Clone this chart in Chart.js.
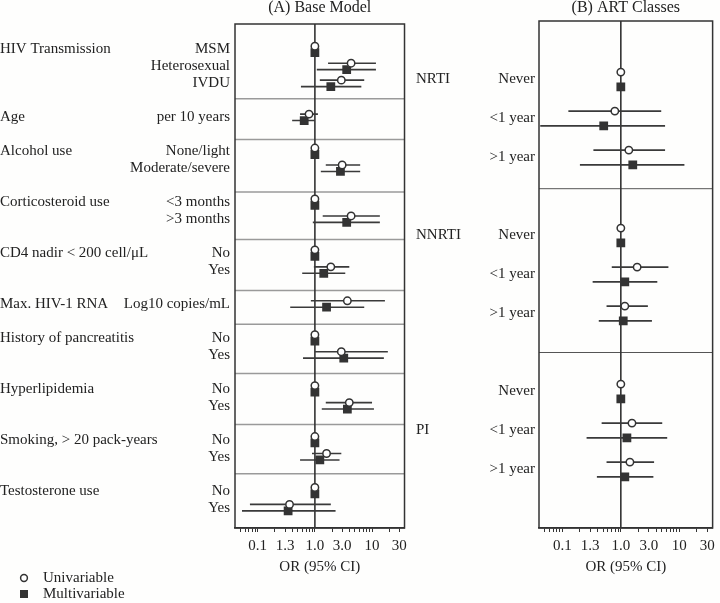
<!DOCTYPE html>
<html>
<head>
<meta charset="utf-8">
<script src="https://cdn.jsdelivr.net/npm/chart.js@4"></script>
<style>
  body { margin: 0; background: #fefefd; }
  #wrap { position: relative; width: 720px; height: 603px; }
  canvas { position: absolute; top: 0; }
  #chartA { left: 0; }
  #chartB { left: 410px; }
</style>
</head>
<body>
<div id="wrap">
  <canvas id="chartA" width="412" height="603"></canvas>
  <canvas id="chartB" width="310" height="603"></canvas>
</div>
<script>
// x axis (odds ratio, log scale)
const TICK_VALUES = [0.1, 0.3, 1, 3, 10, 30];
const TICK_LABELS = ['0.1', '1.3', '1.0', '3.0', '10', '30'];
const MINOR_TICKS = [0.05, 0.06, 0.07, 0.08, 0.09, 0.2, 0.4, 0.5, 0.6, 0.7, 0.8, 0.9, 2, 4, 5, 6, 7, 8, 9, 20];

// (A) Base Model
const A_GROUPS = ['HIV Transmission', 'Age', 'Alcohol use', 'Corticosteroid use', 'CD4 nadir < 200 cell/\u03bcL',
    'Max. HIV-1 RNA', 'History of pancreatitis', 'Hyperlipidemia', 'Smoking, > 20 pack-years', 'Testosterone use'];
const A_GROUP_ROWS = [0, 4, 6, 9, 12, 15, 17, 20, 23, 26];
const A_LABELS = ['MSM', 'Heterosexual', 'IVDU', 'per 10 years', 'None/light', 'Moderate/severe', '<3 months', '>3 months',
    'No', 'Yes', 'Log10 copies/mL', 'No', 'Yes', 'No', 'Yes', 'No', 'Yes', 'No', 'Yes'];
const A_ROWS = [0, 1, 2, 4, 6, 7, 9, 10, 12, 13, 15, 17, 18, 20, 21, 23, 24, 26, 27];
const A_UNI_OR = [1, 4.3, 2.9, 0.79, 1, 3.0, 1, 4.3, 1, 1.9, 3.7, 1, 2.9, 1, 4.0, 1, 1.6, 1, 0.36];
const A_UNI_LO = [null, 1.7, 1.22, 0.55, null, 1.55, null, 1.37, null, 0.96, 0.85, null, 1.0, null, 1.55, null, 0.89, null, 0.073];
const A_UNI_HI = [null, 11.7, 7.3, 1.13, null, 6.2, null, 13.7, null, 4.0, 16.8, null, 18.9, null, 10, null, 2.9, null, 1.9];
const A_MULTI_OR = [1, 3.6, 1.9, 0.65, 1, 2.8, 1, 3.6, 1, 1.43, 1.6, 1, 3.2, 1, 3.7, 1, 1.22, 1, 0.34];
const A_MULTI_LO = [null, 1.08, 0.57, 0.40, null, 1.27, null, 0.92, null, 0.60, 0.37, null, 0.62, null, 1.32, null, 0.55, null, 0.053];
const A_MULTI_HI = [null, 11.7, 6.5, 1.0, null, 6.2, null, 13.7, null, 3.4, 7.3, null, 16.1, null, 10.8, null, 2.7, null, 2.3];
const A_SEPARATORS = [2.9, 5.3, 8.4, 11.2, 14.2, 16.2, 19.1, 22.1, 25.0];

// (B) ART Classes
const B_CLASSES = ['NRTI', 'NNRTI', 'PI'];
const B_CLASS_ROWS = [0, 4, 9];
const B_LABELS = ['Never', '<1 year', '>1 year', 'Never', '<1 year', '>1 year', 'Never', '<1 year', '>1 year'];
const B_ROWS = [0, 1, 2, 4, 5, 6, 8, 9, 10];
const B_UNI_OR = [1, 0.79, 1.37, 1, 1.9, 1.17, 1, 1.55, 1.43];
const B_UNI_LO = [null, 0.127, 0.34, null, 0.70, 0.57, null, 0.47, 0.57];
const B_UNI_HI = [null, 4.9, 5.7, null, 6.5, 2.9, null, 5.1, 3.7];
const B_MULTI_OR = [1, 0.51, 1.6, 1, 1.17, 1.1, 1, 1.27, 1.17];
const B_MULTI_LO = [null, 0.042, 0.20, null, 0.33, 0.42, null, 0.26, 0.39];
const B_MULTI_HI = [null, 5.7, 12.2, null, 4.2, 3.4, null, 6.2, 3.6];
const B_SEPARATORS = [2.8, 7.0];

const FONT = 'Liberation Serif';
const FONT_SIZE = 15;
const INK = '#333';
const OFF = 0.19; // circle above, square below the row

function ciData(rows, lo, hi, off) {
    return rows.flatMap((r, i) => lo[i] == null ? [] :
        [{ x: lo[i], y: r + off }, { x: hi[i], y: r + off }, { x: null, y: null }]);
}

// frame, reference line, separators and all free text
const panelDecor = {
    id: 'panelDecor',
    beforeDatasetsDraw(chart, args, opts) {
        const { ctx, chartArea: a, scales: { x, y } } = chart;
        ctx.save();
        ctx.strokeStyle = opts.sepColor;
        ctx.lineWidth = opts.sepWidth;
        opts.separators.forEach(s => {
            const py = y.getPixelForValue(s);
            ctx.beginPath(); ctx.moveTo(a.left, py); ctx.lineTo(a.right, py); ctx.stroke();
        });
        ctx.strokeStyle = INK;
        ctx.lineWidth = 1.6;
        const px = x.getPixelForValue(1);
        ctx.beginPath(); ctx.moveTo(px, a.top); ctx.lineTo(px, a.bottom); ctx.stroke();
        ctx.lineWidth = 1.5;
        ctx.strokeRect(a.left, a.top, a.right - a.left, a.bottom - a.top);

        ctx.fillStyle = '#222';
        ctx.textBaseline = 'middle';
        ctx.textAlign = 'center';
        const cx = (a.left + a.right) / 2;
        ctx.font = '16px "' + FONT + '"';
        ctx.fillText(opts.title, cx, 8);
        ctx.font = FONT_SIZE + 'px "' + FONT + '"';
        ctx.fillText('OR (95% CI)', cx, 567);
        ctx.textAlign = 'left';
        opts.groups.forEach((g, i) => ctx.fillText(g, opts.groupX, y.getPixelForValue(opts.groupRows[i])));

        if (opts.legend) {
            ctx.fillText('Univariable', 43, 578);
            ctx.fillText('Multivariable', 43, 594);
            ctx.beginPath();
            ctx.arc(24, 578, 3.4, 0, Math.PI * 2);
            ctx.fillStyle = '#fff'; ctx.fill();
            ctx.lineWidth = 1.5; ctx.strokeStyle = INK; ctx.stroke();
            ctx.fillStyle = INK;
            ctx.fillRect(20, 590, 8, 8);
        }
        ctx.restore();
    }
};

function makeChart(id, cfg) {
    const datasets = [
        {
            label: 'Univariable',
            data: cfg.rows.map((r, i) => ({ x: cfg.uni[i], y: r - OFF })),
            pointStyle: 'circle', pointRadius: 3.7,
            pointBackgroundColor: '#fff', pointBorderColor: INK, pointBorderWidth: 1.5,
            order: 0
        },
        {
            label: 'Multivariable',
            data: cfg.rows.map((r, i) => ({ x: cfg.multi[i], y: r + OFF })),
            pointStyle: 'rect', pointRadius: 6.2,
            pointBackgroundColor: INK, pointBorderColor: INK, pointBorderWidth: 0,
            order: 1
        },
        {
            data: ciData(cfg.rows, cfg.uniLo, cfg.uniHi, -OFF),
            showLine: true, spanGaps: false, pointRadius: 0,
            borderColor: '#3a3a3a', borderWidth: 1.6, order: 2
        },
        {
            data: ciData(cfg.rows, cfg.multiLo, cfg.multiHi, OFF),
            showLine: true, spanGaps: false, pointRadius: 0,
            borderColor: '#3a3a3a', borderWidth: 1.6, order: 2
        }
    ];

    return new Chart(document.getElementById(id), {
        type: 'scatter',
        data: { datasets },
        plugins: [panelDecor],
        options: {
            responsive: false,
            animation: false,
            layout: { padding: cfg.padding },
            scales: {
                x: {
                    type: 'logarithmic',
                    min: 0.04,
                    max: 37,
                    afterBuildTicks: s => {
                        s.ticks = [...TICK_VALUES, ...MINOR_TICKS].sort((p, q) => p - q).map(v => ({ value: v }));
                    },
                    afterFit: s => { s.height = 75; },
                    ticks: {
                        autoSkip: false, maxRotation: 0, padding: 5,
                        color: '#222', font: { family: FONT, size: FONT_SIZE },
                        callback: v => {
                            const i = TICK_VALUES.indexOf(v);
                            return i >= 0 ? TICK_LABELS[i] : '';
                        }
                    },
                    grid: { drawOnChartArea: false, drawTicks: true, tickLength: 4, color: INK, tickWidth: 1 },
                    border: { display: true, color: INK, width: 1.5 }
                },
                y: {
                    type: 'linear',
                    reverse: true,
                    min: cfg.yMin,
                    max: cfg.yMax,
                    afterBuildTicks: s => { s.ticks = cfg.rows.map(v => ({ value: v })); },
                    afterFit: s => { s.width = cfg.yWidth; },
                    ticks: {
                        autoSkip: false, padding: cfg.labelPad,
                        color: '#222', font: { family: FONT, size: FONT_SIZE },
                        callback: (v, i) => cfg.labels[i]
                    },
                    grid: { display: false, drawTicks: false },
                    border: { display: false }
                }
            },
            plugins: {
                legend: { display: false },
                tooltip: { enabled: false },
                panelDecor: {
                    title: cfg.title,
                    groups: cfg.groups,
                    groupRows: cfg.groupRows,
                    groupX: cfg.groupX,
                    separators: cfg.separators,
                    sepColor: cfg.sepColor,
                    sepWidth: cfg.sepWidth,
                    legend: cfg.legend
                }
            }
        }
    });
}

makeChart('chartA', {
    title: '(A) Base Model',
    rows: A_ROWS, labels: A_LABELS,
    uni: A_UNI_OR, uniLo: A_UNI_LO, uniHi: A_UNI_HI,
    multi: A_MULTI_OR, multiLo: A_MULTI_LO, multiHi: A_MULTI_HI,
    groups: A_GROUPS, groupRows: A_GROUP_ROWS, groupX: 0,
    separators: A_SEPARATORS, sepColor: '#9a9a9a', sepWidth: 1.5,
    yMin: -1.5, yMax: 28.2, yWidth: 235, labelPad: 5,
    padding: { top: 24, right: 5, bottom: 0, left: 0 },
    legend: true
});

makeChart('chartB', {
    title: '(B) ART Classes',
    rows: B_ROWS, labels: B_LABELS,
    uni: B_UNI_OR, uniLo: B_UNI_LO, uniHi: B_UNI_HI,
    multi: B_MULTI_OR, multiLo: B_MULTI_LO, multiHi: B_MULTI_HI,
    groups: B_CLASSES, groupRows: B_CLASS_ROWS, groupX: 6,
    separators: B_SEPARATORS, sepColor: '#555', sepWidth: 1,
    yMin: -1.5, yMax: 11.5, yWidth: 129, labelPad: 4,
    padding: { top: 21, right: 7, bottom: 0, left: 0 },
    legend: false
});
</script>
</body>
</html>
